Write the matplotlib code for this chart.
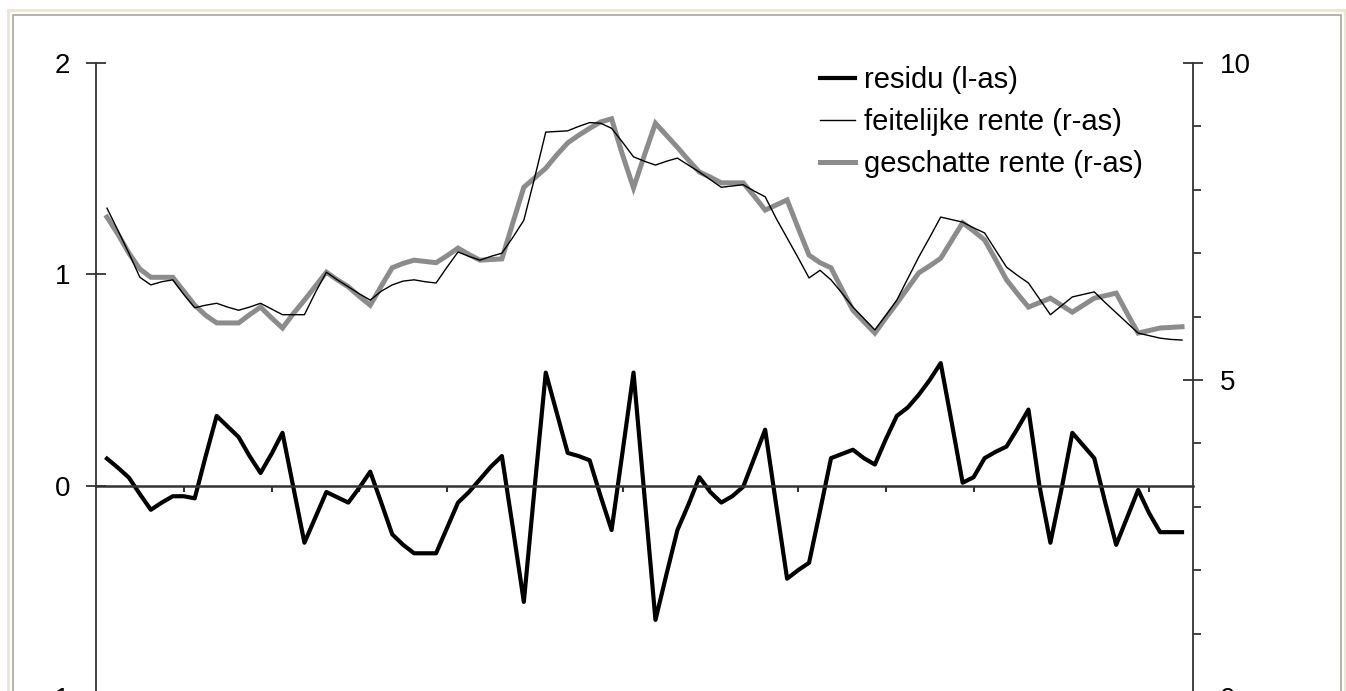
import matplotlib
matplotlib.use("Agg")
import matplotlib.pyplot as plt
from matplotlib.lines import Line2D
from matplotlib.patches import Rectangle

plt.rcParams['font.family'] = ['Liberation Sans', 'DejaVu Sans']

# residu (linker as), 99 kwartalen
residu = [0.128, 0.085, 0.038, -0.04, -0.114, -0.08, -0.05, -0.05, -0.06, 0.14,
          0.33, 0.28, 0.23, 0.14, 0.06, 0.15, 0.25, -0.01, -0.27, -0.15,
          -0.03, -0.055, -0.08, -0.01, 0.066, -0.08, -0.23, -0.28, -0.32, -0.32,
          -0.32, -0.2, -0.08, -0.03, 0.03, 0.09, 0.14, -0.2, -0.55, 0.0,
          0.535, 0.345, 0.155, 0.14, 0.12, -0.05, -0.21, 0.16, 0.535, -0.05,
          -0.635, -0.42, -0.21, -0.09, 0.04, -0.03, -0.08, -0.05, -0.005, 0.13,
          0.265, -0.09, -0.44, -0.40, -0.365, -0.12, 0.13, 0.15, 0.17, 0.13,
          0.10, 0.22, 0.33, 0.37, 0.43, 0.50, 0.58, 0.30, 0.014, 0.04,
          0.13, 0.16, 0.185, 0.27, 0.36, 0.0, -0.27, -0.02, 0.25, 0.19,
          0.13, -0.08, -0.28, -0.15, -0.02, -0.13, -0.22, -0.22, -0.22]

# feitelijke rente (rechter as)
feitelijk = [7.71, 7.36, 7.00, 6.62, 6.50, 6.55, 6.58, 6.35, 6.14, 6.18,
             6.21, 6.15, 6.10, 6.15, 6.21, 6.12, 6.03, 6.03, 6.03, 6.38,
             6.70, 6.58, 6.47, 6.36, 6.26, 6.40, 6.50, 6.56, 6.58, 6.55,
             6.53, 6.78, 7.02, 6.95, 6.89, 6.95, 7.00, 7.25, 7.52, 8.20,
             8.91, 8.92, 8.93, 9.00, 9.06, 9.05, 8.97, 8.75, 8.52, 8.45,
             8.39, 8.45, 8.50, 8.39, 8.28, 8.16, 8.04, 8.06, 8.08, 7.98,
             7.89, 7.55, 7.24, 6.93, 6.61, 6.73, 6.58, 6.37, 6.15, 5.97,
             5.79, 6.02, 6.26, 6.60, 6.94, 7.25, 7.57, 7.53, 7.49, 7.40,
             7.32, 7.05, 6.78, 6.65, 6.53, 6.28, 6.03, 6.17, 6.31, 6.35,
             6.39, 6.22, 6.06, 5.90, 5.74, 5.70, 5.66, 5.64, 5.63]

# geschatte rente (rechter as)
geschat = [7.57, 7.30, 7.00, 6.75, 6.62, 6.62, 6.62, 6.40, 6.18, 6.02,
           5.90, 5.90, 5.90, 6.03, 6.15, 5.98, 5.82, 6.05, 6.26, 6.48,
           6.70, 6.58, 6.47, 6.32, 6.18, 6.48, 6.77, 6.84, 6.89, 6.87,
           6.85, 6.96, 7.08, 6.98, 6.89, 6.90, 6.91, 7.48, 8.04, 8.19,
           8.34, 8.55, 8.74, 8.86, 8.97, 9.07, 9.12, 8.55, 8.03, 8.55,
           9.05, 8.86, 8.67, 8.47, 8.28, 8.20, 8.11, 8.11, 8.11, 7.90,
           7.68, 7.76, 7.84, 7.40, 6.97, 6.85, 6.77, 6.43, 6.10, 5.92,
           5.74, 5.98, 6.21, 6.45, 6.69, 6.80, 6.92, 7.20, 7.48, 7.35,
           7.21, 6.90, 6.58, 6.36, 6.15, 6.22, 6.29, 6.18, 6.07, 6.18,
           6.29, 6.33, 6.37, 6.05, 5.74, 5.78, 5.82, 5.83, 5.84]

labels = ['residu (l-as)', 'feitelijke rente (r-as)', 'geschatte rente (r-as)']
x = list(range(len(residu)))
xticks = list(range(7, 99, 8))

W, H = 1346, 691
fig = plt.figure(figsize=(W / 100, H / 100), dpi=100)

# kader rond de grafiek
fig.patches.append(Rectangle((8 / W, -0.1), 1337 / W, (H - 10) / H + 0.1,
                             transform=fig.transFigure, fill=False,
                             edgecolor='#ebe6d2', lw=2))
fig.patches.append(Rectangle((13 / W, -0.1), 1328 / W, (H - 15) / H + 0.1,
                             transform=fig.transFigure, fill=False,
                             edgecolor='#a8a498', lw=1.2))

ax = fig.add_axes([96 / W, (H - 697) / H, 1097 / W, 634 / H])
ax2 = ax.twinx()
ax.set_zorder(2)
ax.patch.set_visible(False)

ax2.plot(x, geschat, color='#8c8c8c', lw=3.6, solid_joinstyle='miter')
ax2.plot(x, feitelijk, color='black', lw=1.0)
ax.plot(x, residu, color='black', lw=3.0)

ax.set_xlim(-1, 99)
ax.set_ylim(-1, 2)
ax2.set_ylim(0, 10)

spc = '#333333'
for a in (ax, ax2):
    a.spines['top'].set_visible(False)
    for s in a.spines.values():
        s.set_color(spc)
        s.set_linewidth(1.3)
ax.spines['right'].set_visible(False)
ax2.spines['left'].set_visible(False)
ax2.spines['bottom'].set_visible(False)
ax.spines['bottom'].set_position(('data', 0))
ax.spines['bottom'].set_linewidth(1.8)

ax.set_xticks(xticks)
ax.set_xticklabels([])
ax.tick_params(axis='x', direction='out', length=4, width=1.5, color=spc)

ax.set_yticks([-1, 0, 1, 2])
ax.tick_params(axis='y', direction='inout', length=15, width=1.3, color=spc,
               labelsize=20, pad=11)

ax2.set_yticks([0, 5, 10])
ax2.set_yticks(range(11), minor=True)
ax2.tick_params(axis='y', which='major', direction='inout', length=15, width=1.3,
                color=spc, labelsize=20, pad=12)
ax2.tick_params(axis='y', which='minor', direction='out', length=6, width=1.3,
                color=spc)

handles = [Line2D([], [], color='black', lw=3.0),
           Line2D([], [], color='black', lw=1.0),
           Line2D([], [], color='#8c8c8c', lw=3.6)]
fig.legend(handles, labels, loc='upper left', bbox_to_anchor=(820 / W, (H - 66) / H),
           frameon=False, fontsize=21, handlelength=1.2, handletextpad=0.3,
           labelspacing=0.48, borderpad=0, borderaxespad=0)

fig.savefig('out.png', dpi=100)
